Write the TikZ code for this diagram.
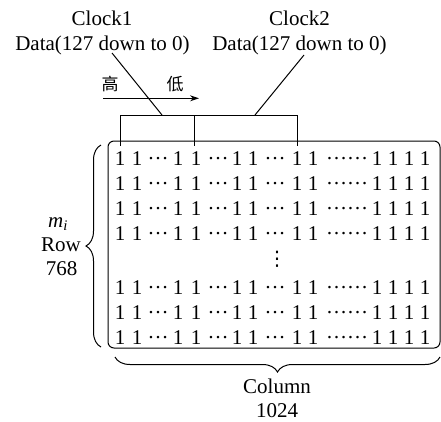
\documentclass[tikz,border=0pt]{standalone}
\usepackage{fontspec}
\setmainfont{Liberation Serif}
\newfontfamily\cjkfont{Noto Sans CJK SC}
\newfontfamily\symfont{DejaVu Sans}
\usetikzlibrary{arrows.meta,decorations.pathreplacing}

\begin{document}
\begin{tikzpicture}[x=1pt,y=-1pt,
  lbl/.style={font=\fontsize{21}{25}\selectfont, inner sep=0pt, anchor=base},
  bit/.style={font=\fontsize{21}{25}\selectfont, inner sep=0pt, anchor=base},
  cjk/.style={font=\fontsize{17}{20}\selectfont\cjkfont, inner sep=0pt},
  ln/.style={line width=1pt},
  brc/.style={decorate, decoration={brace, amplitude=15pt}, line width=1pt}]
\useasboundingbox (0,0) rectangle (441,421);

% clock / data labels
\node[lbl] (clk1) at (102,25) {Clock1};
\node[lbl] (dat1) at (102.5,50) {Data(127 down to 0)};
\node[lbl] (clk2) at (299.5,25) {Clock2};
\node[lbl] (dat2) at (299.5,50) {Data(127 down to 0)};

% register word boxes
\coordinate (w1) at (120.7,115);
\coordinate (w2) at (194.5,115);
\coordinate (w3) at (297.7,115);
\draw[ln] (120.7,146) -- (w1) -- (w3) -- (297.7,146);
\draw[ln] (w2) -- (194.5,146);

% leader lines
\coordinate (s1) at (112,53);
\coordinate (e1) at (162,115);
\coordinate (s2) at (304,55);
\coordinate (e2) at (255,115);
\draw[ln] (s1) -- (e1);
\draw[ln] (s2) -- (e2);

% bit order arrow
\node[cjk] (hi) at (110,84) {高};
\node[cjk] (lo) at (175,84) {低};
\coordinate (a0) at (103,98.3);
\coordinate (a1) at (199,98.3);
\draw[ln,-{Stealth[length=9pt,width=6pt]}] (a0) -- (a1);

% memory array frame
\draw[ln, rounded corners=6pt] (108,141) rectangle (440,348);

% bit cells
\foreach \yy [count=\r] in {165,190,215,240,294,319,344} {
  \foreach \xx [count=\c] in {120,137,178,196,237,253,297,313,377,393,409,425}
    \node[bit] (b\r-\c) at (\xx,\yy) {1};
  \foreach \xx [count=\c] in {158,218,275}
    \node[bit] (d\r-\c) at (\xx,\yy-6) {…};
  \node[bit] (dd\r) at (347,\yy-6) {……};
}
\node[inner sep=0pt, font=\fontsize{20}{20}\selectfont\symfont] (vd) at (277,259) {⋮};

% row brace and label
\draw[brc] (101,347) -- (101,145);
\node[lbl] (mi) at (58,227) {\textit{m}\textsubscript{\textit{i}}};
\node[lbl] (row) at (61,251) {Row};
\node[lbl] (rown) at (61.5,275) {768};

% column brace and label
\draw[brc] (440,357) -- (115,357);
\node[lbl] (col) at (277,393) {Column};
\node[lbl] (coln) at (277,417) {1024};
\end{tikzpicture}
\end{document}
